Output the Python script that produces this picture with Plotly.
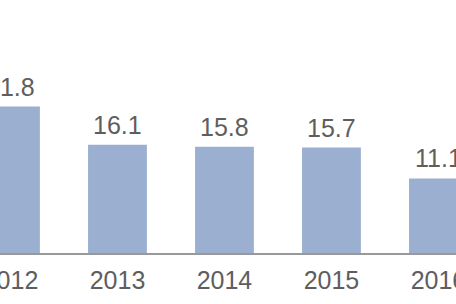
import plotly.graph_objects as go

years = ["2012", "2013", "2014", "2015", "2016"]
values = [21.8, 16.1, 15.8, 15.7, 11.1]
labels = ["21.8", "16.1", "15.8", "15.7", "11.1"]

pos = list(range(len(years)))
FONT = "Liberation Sans, Arial"
TXT = "#5e5e5e"

fig = go.Figure(go.Bar(
    x=pos, y=values,
    marker=dict(color="#9BB0D1", line=dict(width=0)),
    width=0.55,
))
for p, v, t in zip(pos, values, labels):
    fig.add_annotation(x=p, y=v, text=t, showarrow=False, yanchor="bottom",
                       yshift=4, xanchor="center",
                       font=dict(family=FONT, size=25, color=TXT))
fig.update_layout(
    width=456, height=304,
    margin=dict(l=0, r=0, t=0, b=51, autoexpand=False),
    paper_bgcolor="white", plot_bgcolor="white",
    showlegend=False,
    xaxis=dict(range=[-0.098, 4.164], autorange=False, automargin=False,
               showgrid=False, zeroline=False,
               showline=True, linecolor="#999999", linewidth=1.5,
               tickmode="array", tickvals=pos, ticktext=years,
               ticklabeloverflow="allow", ticklabelstandoff=4,
               ticks="", tickfont=dict(family=FONT, size=25, color=TXT)),
    yaxis=dict(range=[0, 37.65], autorange=False, automargin=False, visible=False),
)
fig.write_html("out.html")
